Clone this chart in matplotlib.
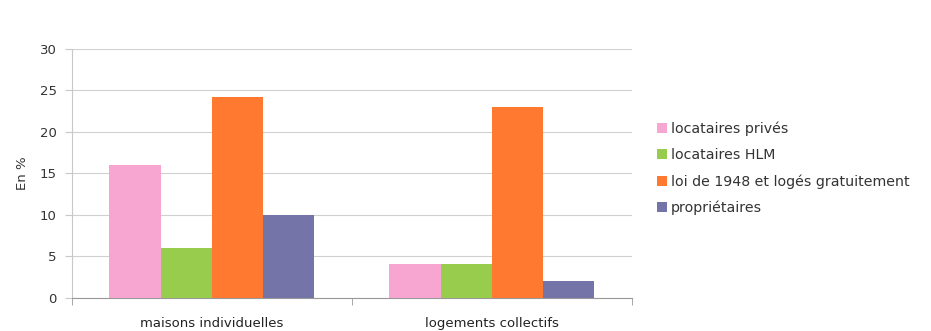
import numpy as np
import matplotlib.pyplot as plt

categories = ['maisons individuelles', 'logements collectifs']
series = ['locataires privés', 'locataires HLM', 'loi de 1948 et logés gratuitement', 'propriétaires']
locataires_prives = [16.0, 4.1]
locataires_hlm = [6.0, 4.1]
loi_1948 = [24.2, 23.0]
proprietaires = [10.0, 2.0]
couleurs = ['#F7A6D2', '#98CC4C', '#FF7A30', '#7474A8']

valeurs = [locataires_prives, locataires_hlm, loi_1948, proprietaires]

fig = plt.figure(figsize=(9.31, 3.31), dpi=100)
ax = fig.add_axes([0.0773, 0.0997, 0.6015, 0.7523])

x = np.arange(len(categories)) + 1
largeur = 0.183
for i, (nom, vals, c) in enumerate(zip(series, valeurs, couleurs)):
    ax.bar(x + (i - 1.5) * largeur, vals, width=largeur, color=c, label=nom, zorder=3)

ax.set_xlim(0.5, 2.5)
ax.set_ylim(0, 30)
ax.set_yticks(range(0, 31, 5))
ax.yaxis.grid(True, color='#d0d0d0', linewidth=0.8, zorder=0)
ax.tick_params(axis='y', length=5, color='#c8c8c8', labelsize=9.5, labelcolor='#333333', pad=6)

ax.set_xticks(x)
ax.set_xticklabels(categories)
ax.set_xticks([0.5, 1.5, 2.5], minor=True)
ax.tick_params(axis='x', which='major', length=0, labelsize=9.5, labelcolor='#222222', pad=14)
ax.tick_params(axis='x', which='minor', length=5, color='#999999')

for s in ['top', 'right']:
    ax.spines[s].set_visible(False)
ax.spines['left'].set_color('#c8c8c8')
ax.spines['bottom'].set_color('#999999')

ax.set_ylabel('En %', fontsize=9.5, color='#333333', labelpad=8)

ax.legend(loc='center left', bbox_to_anchor=(1.035, 0.52), frameon=False, fontsize=10.2,
          handlelength=0.7, handleheight=0.7, handletextpad=0.25, labelspacing=0.85,
          labelcolor='#333333', borderaxespad=0)

plt.savefig('out.png', dpi=100)
